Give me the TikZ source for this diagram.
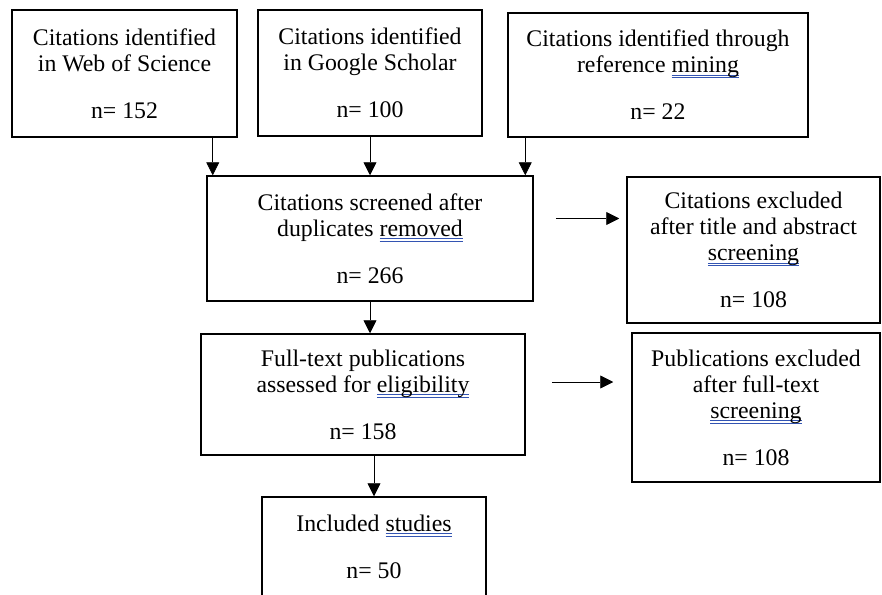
\documentclass[tikz,border=0pt]{standalone}
\usepackage{fontspec}
\setmainfont{Liberation Serif}
\usepackage{tikz}
\usetikzlibrary{arrows.meta,positioning}
\definecolor{spellblue}{rgb}{0.2,0.33,0.7}
\newcommand{\spellmark}[1]{\leavevmode\setbox0=\hbox{#1}%
	\rlap{\color{spellblue}\rule[-1.6pt]{\wd0}{0.55pt}}%
	\rlap{\color{spellblue}\rule[-2.8pt]{\wd0}{0.55pt}}\box0}
\tikzset{
	box/.style={draw,rectangle,align=center,line width=0.75pt,inner sep=0pt,
		font=\fontsize{11.9}{13}\selectfont},
	>={Triangle[length=6.5pt,width=6.5pt]},
	every new ->/.style={line width=0.6pt}
}
\begin{document}
\begin{tikzpicture}[x=0.5pt,y=-0.5pt]
			\useasboundingbox (0,0) rectangle (882,594);
			\clip (0,0) rectangle (882,594);

			\node[box,minimum width=112.5pt,minimum height=63.5pt] (WoS) at (124.5, 73.5) {Citations identified\\in Web of Science\\[10.5pt]n= 152};

			\node[box,minimum width=112pt,minimum height=63pt] (GS) at (370, 73) {Citations identified\\in Google Scholar\\[10.5pt]n= 100};

			\node[box,minimum width=150pt,minimum height=62pt] (Mining) at (658, 75) {Citations identified through\\reference \spellmark{mining}\\[10.5pt]n= 22};

			\node[box,minimum width=163pt,minimum height=62.5pt] (Screened) at (370, 238.5) {Citations screened after\\duplicates \spellmark{removed}\\[10.5pt]n= 266};

			\node[box,minimum width=126.5pt,minimum height=73pt] (ExclTA) at (753.5, 250) {Citations excluded\\after title and abstract\\\spellmark{screening}\\[10.5pt]n= 108};

			\node[box,minimum width=162pt,minimum height=60.5pt] (FullText) at (363, 394.5) {Full-text publications\\assessed for \spellmark{eligibility}\\[10.5pt]n= 158};

			\node[box,minimum width=124pt,minimum height=74.5pt] (ExclFT) at (756, 407.5) {Publications excluded\\after full-text\\\spellmark{screening}\\[10.5pt]n= 108};

			\node[box,minimum width=112pt,minimum height=49.5pt] (Included) at (374, 546.5) {Included \spellmark{studies}\\[10.5pt]n= 50};

			\draw[->] ([xshift=-12.5pt]WoS.south east) coordinate (X1) -- (X1 |- Screened.north);
			\draw[->] (GS.south) -- (GS.south |- Screened.north);
			\draw[->] ([xshift=9pt]Mining.south west) coordinate (X2) -- (X2 |- Screened.north);
			\draw[->,shorten <=11pt,shorten >=3.5pt] ([yshift=10pt]Screened.east) coordinate (X3) -- (X3 -| ExclTA.west);
			\draw[->] (Screened.south) -- (Screened.south |- FullText.north);
			\draw[->,shorten <=13pt,shorten >=9pt] ([yshift=6.25pt]FullText.east) coordinate (X4) -- (X4 -| ExclFT.west);
			\draw[->] (Included.north |- FullText.south) -- (Included.north);
		\end{tikzpicture}
\end{document}
